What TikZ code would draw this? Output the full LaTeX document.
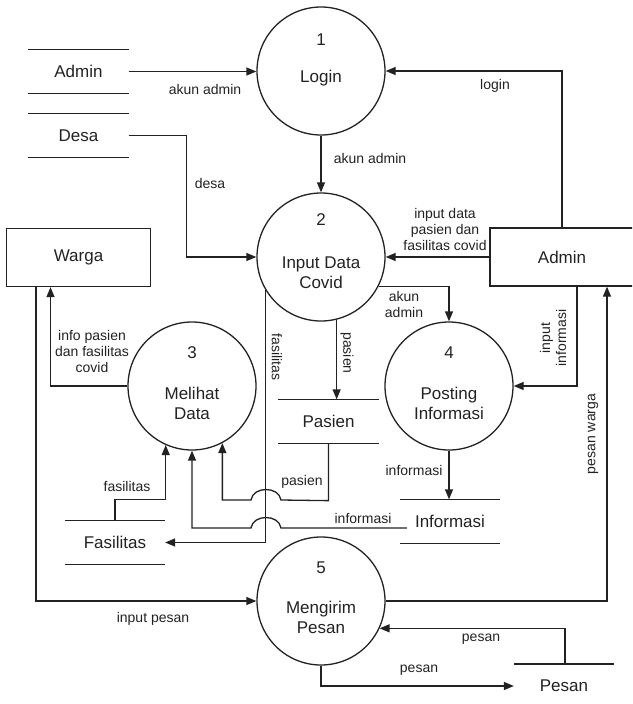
\documentclass[tikz,border=0pt]{standalone}
\usepackage{fontspec}
\setmainfont{Liberation Sans}
\usetikzlibrary{arrows.meta,calc}
\definecolor{ink}{HTML}{222222}
\newcommand\nmfont{\fontsize{17}{20}\selectfont}
\newcommand\lbfont{\fontsize{14}{16}\selectfont}
\begin{document}
\begin{tikzpicture}[x=1pt,y=-1pt,
  line width=1.3pt, color=ink,
  proc/.style={circle, draw, minimum size=128pt, inner sep=0pt},
  ent/.style={rectangle, draw, minimum width=144pt, minimum height=58pt, inner sep=0pt, font=\nmfont},
  store/.style={minimum width=99pt, minimum height=43pt, inner sep=0pt, font=\nmfont},
  stline/.style={draw, line width=1.3pt},
  pnum/.style={font=\nmfont, inner sep=0pt},
  pname/.style={font=\nmfont, align=center, inner sep=0pt},
  lbl/.style={font=\lbfont, align=center, inner sep=1pt},
  flow/.style={draw, -{Triangle[length=10pt,width=8pt]}},
]
\useasboundingbox (0,0) rectangle (632,704);
\clip (0,0) rectangle (632,704);

% processes
\node[proc] (p1) at (321,71) {};
\node[proc] (p2) at (321,257) {};
\node[proc] (p3) at (192,386) {};
\node[proc] (p4) at (449,386) {};
\node[proc] (p5) at (321,601) {};
\node[pnum] (n1) at ($(p1)+(0,-31)$) {1};
\node[pname] (m1) at ($(p1)+(0,7)$) {Login};
\node[pnum] (n2) at ($(p2)+(0,-37)$) {2};
\node[pname] (m2) at ($(p2)+(0,16)$) {Input Data\\Covid};
\node[pnum] (n3) at ($(p3)+(0,-33)$) {3};
\node[pname] (m3) at ($(p3)+(0,17)$) {Melihat\\Data};
\node[pnum] (n4) at ($(p4)+(0,-33)$) {4};
\node[pname] (m4) at ($(p4)+(0,17)$) {Posting\\Informasi};
\node[pnum] (n5) at ($(p5)+(0,-33)$) {5};
\node[pname] (m5) at ($(p5)+(0,16)$) {Mengirim\\Pesan};

% entities
\node[ent] (warga) at (78.5,257.5) {Warga};
\node[ent] (adminE) at (562,257) {Admin};

% data stores
\node[store] (admS) at (78.5,71.5) {Admin};
\node[store] (desS) at (78.5,135.5) {Desa};
\node[store] (pasS) at (328.5,421.5) {Pasien};
\node[store] (infS) at (450,521.5) {Informasi};
\node[store] (fasS) at (115,542.5) {Fasilitas};
\node[store] (pesS) at (564,686) {Pesan};
\foreach \s in {admS,desS,pasS,infS,fasS}{
  \draw[stline] (\s.north west) -- (\s.north east) (\s.south west) -- (\s.south east);
}
\draw[stline] (pesS.north west) -- (pesS.north east);

% flows
\draw[flow] (admS.east) -- (admS.east -| p1.west);
\draw[flow] (adminE.north) |- (p1.east);
\draw[flow] (p1.south) -- (p2.north);
\draw[flow] (desS.east) -- ++(58,0) |- (p2.west);
\draw[flow] (adminE.west) -- (p2.east);
\draw[flow] (p2.-27) -| (p4.north);
\draw[flow] (p2.-76) -- (p2.-76 |- pasS.north);
\draw[flow] (p2.-149) |- (fasS.east);
\draw[flow] (pasS.south) -- ++(0,57) -- (281,500) .. controls (279,486) and (253,486) .. (251,500) -| (p3.-62);
\draw[flow] ($(infS.west)+(7,6.5)$) -- (281,528) .. controls (279,514) and (253,514) .. (251,528) -| (p3.south);
\draw[flow] (fasS.north) -- ++(0,-21) -| (p3.-114);
\draw[flow] (p3.west) -| ($(warga.south)+(-28,0)$);
\draw[flow] ($(warga.south)+(-42.5,0)$) |- (p5.west);
\draw[flow] (p5.east) -| ($(adminE.south)+(45,0)$);
\draw[flow] ($(adminE.south)+(15,0)$) |- (p4.east);
\draw[flow] (p4.south) -- (p4.south |- infS.north);
\draw[flow] ($(pesS.north)+(1,0)$) |- (p5.-25);
\draw[flow] (p5.south) |- (pesS.west);

% labels
\node[lbl] (t1) at (205,89) {akun admin};
\node[lbl] (t2) at (495,86) {login};
\node[lbl] (t3) at (370,158) {akun admin};
\node[lbl] (t4) at (210,183) {desa};
\node[lbl] (t5) at (445,229) {input data\\pasien dan\\fasilitas covid};
\node[lbl] (t6) at (404,304) {akun\\admin};
\node[lbl,rotate=-90] (t7) at (347,353) {pasien};
\node[lbl,rotate=-90] (t8) at (277,357) {fasilitas};
\node[lbl,rotate=90] (t9) at (553,338) {input\\informasi};
\node[lbl,rotate=90] (t10) at (593,434) {pesan warga};
\node[lbl] (t11) at (92,351) {info pasien\\dan fasilitas\\covid};
\node[lbl] (t12) at (127,486) {fasilitas};
\node[lbl] (t13) at (302,482) {pasien};
\node[lbl] (t14) at (363,518) {informasi};
\node[lbl] (t15) at (414,470) {informasi};
\node[lbl] (t16) at (153,619) {input pesan};
\node[lbl] (t17) at (481,639) {pesan};
\node[lbl] (t18) at (419,670) {pesan};
\end{tikzpicture}
\end{document}
